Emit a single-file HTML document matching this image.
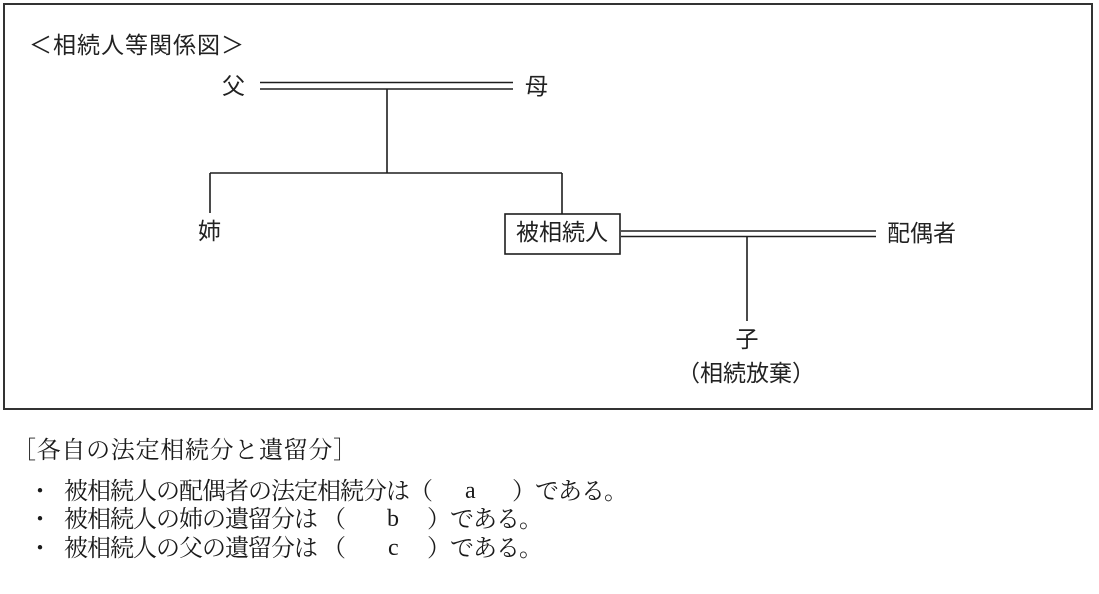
<!DOCTYPE html>
<html lang="ja">
<head>
<meta charset="utf-8">
<style>
  html, body { margin:0; padding:0; background:#fff; }
  body { width:1099px; height:594px; position:relative; overflow:hidden; }
  svg { position:absolute; left:0; top:0; }
  .d { position:absolute; font-family:"Liberation Sans","Noto Sans CJK JP",sans-serif; font-size:23px; line-height:23px; color:#222; white-space:nowrap; }
  .b { position:absolute; font-family:"Liberation Serif","Noto Serif CJK SC",serif; font-size:24px; line-height:24px; letter-spacing:-1px; color:#1a1a1a; white-space:nowrap; }
  .c { text-align:center; width:200px; }
  .lt { font-family:"Liberation Serif",serif; font-size:24px; letter-spacing:0; }
</style>
</head>
<body>
<svg width="1099" height="594" viewBox="0 0 1099 594">
  <rect x="4" y="4" width="1088" height="405" fill="none" stroke="#333" stroke-width="2"/>
  <g stroke="#1e1e1e" stroke-width="1.6" fill="none">
    <line x1="260" y1="82.5" x2="513" y2="82.5"/>
    <line x1="260" y1="89" x2="513" y2="89"/>
    <line x1="387" y1="89" x2="387" y2="173"/>
    <line x1="210" y1="173" x2="562" y2="173"/>
    <line x1="210" y1="173" x2="210" y2="213"/>
    <line x1="562" y1="173" x2="562" y2="214"/>
    <rect x="505" y="214" width="115" height="40"/>
    <line x1="621" y1="231" x2="876" y2="231"/>
    <line x1="621" y1="236.5" x2="876" y2="236.5"/>
    <line x1="747" y1="236.5" x2="747" y2="321"/>
  </g>
</svg>

<div class="d" style="left:29px;top:34px;letter-spacing:1px;">＜相続人等関係図＞</div>
<div class="d" style="left:222px;top:75px;">父</div>
<div class="d" style="left:525px;top:75px;">母</div>
<div class="d" style="left:198px;top:220px;">姉</div>
<div class="d" style="left:516px;top:221px;">被相続人</div>
<div class="d" style="left:887px;top:222px;">配偶者</div>
<div class="d c" style="left:647px;top:328px;">子</div>
<div class="d" style="left:677px;top:360px;font-family:'Noto Sans CJK JP',sans-serif;">（相続放棄）</div>

<div class="b" style="left:12px;top:439px;letter-spacing:0.7px;">［各自の法定相続分と遺留分］</div>

<div class="b" style="left:28px;top:480px;">・</div>
<div class="b" style="left:64px;top:480px;">被相続人の配偶者の法定相続分は</div>
<div class="b" style="left:409px;top:480px;">（</div>
<div class="b lt" style="left:465px;top:479px;">a</div>
<div class="b" style="left:512px;top:480px;">）である。</div>

<div class="b" style="left:28px;top:508px;">・</div>
<div class="b" style="left:64px;top:508px;">被相続人の姉の遺留分は</div>
<div class="b" style="left:322px;top:508px;">（</div>
<div class="b lt" style="left:387px;top:507px;">b</div>
<div class="b" style="left:427px;top:508px;">）である。</div>

<div class="b" style="left:28px;top:537px;">・</div>
<div class="b" style="left:64px;top:537px;">被相続人の父の遺留分は</div>
<div class="b" style="left:322px;top:537px;">（</div>
<div class="b lt" style="left:388px;top:536px;">c</div>
<div class="b" style="left:427px;top:537px;">）である。</div>
</body>
</html>
